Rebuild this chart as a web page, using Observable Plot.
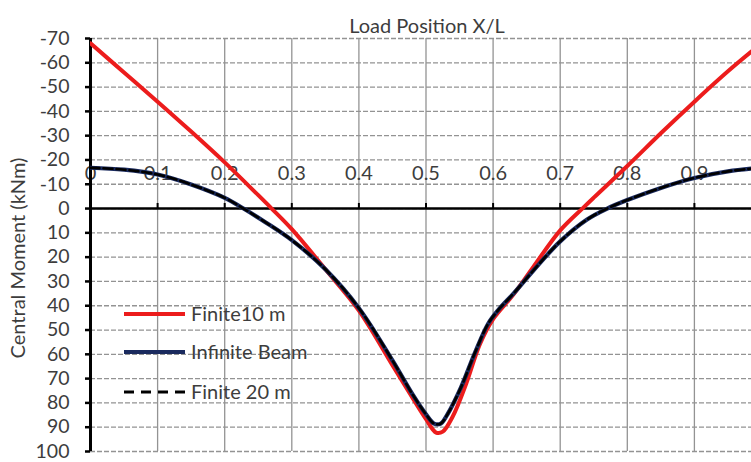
<!DOCTYPE html>
<html>
<head>
<meta charset="utf-8">
<script src="https://cdn.jsdelivr.net/npm/d3@7"></script>
<script src="https://cdn.jsdelivr.net/npm/@observablehq/plot@0.6"></script>
<style>
  html, body { margin: 0; padding: 0; background: #ffffff; }
  #chart { width: 751px; height: 462px; }
  svg { font-family: Lato, "Open Sans", sans-serif; }
</style>
</head>
<body>
<div id="chart"></div>
<script>
// ---- data ----
const title = "Load Position X/L";
const yLabel = "Central Moment (kNm)";
const seriesNames = ["Finite10 m", "Infinite Beam", "Finite 20 m"];

const xTicks = [0, 0.1, 0.2, 0.3, 0.4, 0.5, 0.6, 0.7, 0.8, 0.9, 1];
const yTicks = [-70, -60, -50, -40, -30, -20, -10, 0, 10, 20, 30, 40, 50, 60, 70, 80, 90, 100];

const finite10X = [0, 0.05, 0.1, 0.15, 0.2, 0.25, 0.27, 0.3, 0.35, 0.4, 0.45, 0.48, 0.5, 0.515, 0.525, 0.54, 0.56, 0.58, 0.6, 0.63, 0.66, 0.7, 0.733, 0.75, 0.8, 0.85, 0.9, 0.95, 1.0];
const finite10M = [-68, -56, -44, -31.7, -19, -5.5, 0, 8.5, 25, 42, 64.5, 78, 86.7, 92.2, 91.8, 85.5, 72, 56, 45.5, 35.5, 24, 9, 0, -4.5, -17.5, -31, -44, -56.5, -68];

const infiniteX = [0, 0.05, 0.1, 0.15, 0.2, 0.228, 0.26, 0.3, 0.35, 0.4, 0.45, 0.48, 0.5, 0.512, 0.522, 0.532, 0.552, 0.572, 0.592, 0.607, 0.632, 0.66, 0.7, 0.74, 0.77, 0.8, 0.85, 0.9, 0.95, 1.0];
const infiniteM = [-16.8, -16, -14, -9.9, -4.4, 0, 5.5, 13, 25, 41, 62.5, 76.5, 84.7, 88.5, 88.5, 84.7, 73.7, 60, 47.7, 42, 34.5, 25.5, 13.5, 4.5, 0, -3.5, -8.5, -12.6, -15.3, -16.8];

const finite20X = [0, 0.05, 0.1, 0.15, 0.2, 0.228, 0.26, 0.3, 0.35, 0.4, 0.45, 0.48, 0.5, 0.512, 0.522, 0.532, 0.552, 0.572, 0.592, 0.607, 0.632, 0.66, 0.7, 0.74, 0.77, 0.8, 0.85, 0.9, 0.95, 1.0];
const finite20M = [-16.8, -16, -14, -9.9, -4.4, 0, 5.5, 13, 25, 41, 62.5, 76.5, 84.7, 88.5, 88.5, 84.7, 73.7, 60, 47.7, 42, 34.5, 25.5, 13.5, 4.5, 0, -3.5, -8.5, -12.6, -15.3, -16.8];

const colors = ["#ec1c1c", "#1a2a5e", "#000000"];

// ---- build tables ----
const finite10 = finite10X.map((x, i) => ({x, m: finite10M[i]}));
const infinite = infiniteX.map((x, i) => ({x, m: infiniteM[i]}));
const finite20 = finite20X.map((x, i) => ({x, m: finite20M[i]}));

const W = 751, H = 462, mL = 90, mR = 0, mT = 38, mB = 11;
const textColor = "#3d3d3d";
const gridColor = "#939393";
const font = "Lato, 'Open Sans', sans-serif";

const plot = Plot.plot({
  width: W,
  height: H,
  marginLeft: mL,
  marginRight: mR,
  marginTop: mT,
  marginBottom: mB,
  style: {background: "#ffffff", fontFamily: font, overflow: "visible"},
  x: {domain: [0, (W - mL) / 671], axis: null},
  y: {domain: [-70, 100], reverse: true, axis: null},
  marks: [
    Plot.gridY(yTicks, {stroke: gridColor, strokeOpacity: 1, strokeWidth: 1.3, strokeDasharray: "5,2"}),
    Plot.gridX(xTicks.filter(d => d > 0 && d < 0.99), {stroke: gridColor, strokeOpacity: 1, strokeWidth: 1.3}),
    Plot.ruleY([0], {stroke: "#000", strokeWidth: 2.5}),
    Plot.ruleX(xTicks.filter(d => d < 0.99), {x: d => d, y1: 0, y2: -2.1, stroke: "#000", strokeWidth: 2}),
    Plot.text(xTicks.filter(d => d < 0.99), {x: d => d, y: 0, dy: -35, text: d => String(d), fontSize: 20, fill: textColor}),
    Plot.axisY(yTicks, {anchor: "left", tickSize: 5, tickPadding: 16, tickFormat: d => String(d), fontSize: 19.5, fill: textColor, stroke: "#000", strokeWidth: 2.5, label: null}),
    Plot.ruleX([0], {stroke: "#000", strokeWidth: 3}),
    Plot.line(finite10, {x: "x", y: "m", stroke: colors[0], strokeWidth: 4, curve: "catmull-rom", clip: true}),
    Plot.line(infinite, {x: "x", y: "m", stroke: colors[1], strokeWidth: 4.2, curve: "catmull-rom", clip: true}),
    Plot.line(finite20, {x: "x", y: "m", stroke: colors[2], strokeWidth: 2.6, strokeDasharray: "9,4", curve: "catmull-rom", clip: true}),
    Plot.text([title], {frameAnchor: "top", dy: -20, dx: 6, fontSize: 20, fill: textColor}),
    Plot.text([yLabel], {frameAnchor: "left", textAnchor: "middle", rotate: -90, dx: -72, dy: 13, fontSize: 20, fill: textColor})
  ]
});

document.getElementById("chart").appendChild(plot);

// ---- legend inside the plot area ----
const svg = d3.select(plot);
const lg = svg.append("g").attr("font-family", font).attr("text-anchor", "start");
const legendRows = [
  {name: seriesNames[0], color: colors[0], dash: null, width: 4, y: 314},
  {name: seriesNames[1], color: colors[1], dash: null, width: 4, y: 352},
  {name: seriesNames[2], color: colors[2], dash: "10,7", width: 3, y: 392}
];
legendRows.forEach(r => {
  lg.append("line")
    .attr("x1", 124).attr("x2", 185).attr("y1", r.y).attr("y2", r.y)
    .attr("stroke", r.color).attr("stroke-width", r.width)
    .attr("stroke-dasharray", r.dash);
  lg.append("text")
    .attr("x", 191).attr("y", r.y).attr("dy", "0.35em")
    .attr("text-anchor", "start")
    .attr("font-size", 20).attr("fill", textColor)
    .text(r.name);
});
</script>
</body>
</html>
